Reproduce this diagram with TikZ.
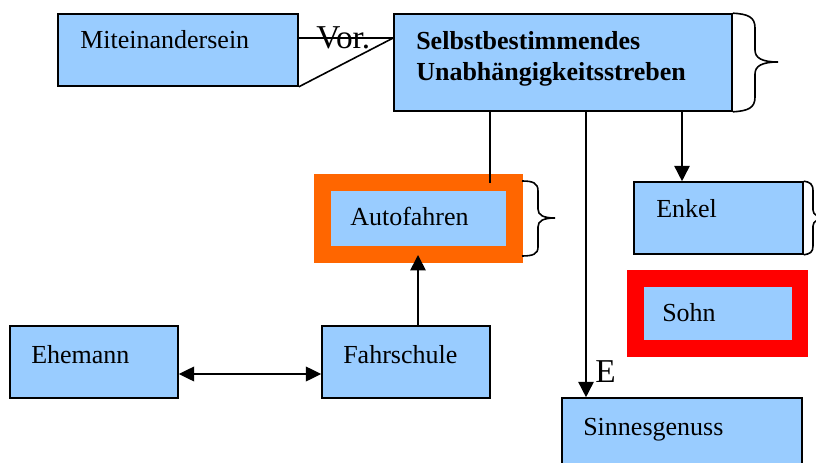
\documentclass[tikz,border=0pt]{standalone}
\usepackage{fontspec}
\setmainfont{Liberation Serif}
\usetikzlibrary{arrows.meta,fit}
\definecolor{boxblue}{HTML}{99CCFF}
\definecolor{frameorange}{HTML}{FF6600}
\definecolor{framered}{HTML}{FF0000}
\begin{document}
\begin{tikzpicture}[x=0.75pt,y=-0.75pt,
  box/.style={draw=black, line width=1.2pt, fill=boxblue, inner sep=0pt},
  orangebox/.style={draw=frameorange, line width=12.75pt, fill=boxblue, inner sep=0pt},
  redbox/.style={draw=framered, line width=12.5pt, fill=boxblue, inner sep=0pt},
  lbl/.style={anchor=base west, inner sep=0pt, font=\fontsize{19.5}{23}\selectfont},
  blbl/.style={lbl, font=\fontsize{19.5}{23}\selectfont\bfseries},
  biglbl/.style={lbl, font=\fontsize{25}{29}\selectfont},
  conn/.style={line width=1.2pt},
  arr/.style={-{Triangle[length=11.5pt,width=11.5pt]}},
  darr/.style={{Triangle[length=11.5pt,width=11pt]}-{Triangle[length=11.5pt,width=11pt]}}]
\useasboundingbox (0,0) rectangle (816,463);
\clip (0,0) rectangle (816,463);

% boxes
\node[box, fit={(58,14)(298,86)}] (mit) {};
\node[lbl] (mitT) at (80,49) {Miteinandersein};
\node[box, fit={(394,14)(732,111)}] (sel) {};
\node[blbl] (selA) at (416,50) {Selbstbestimmendes};
\node[blbl] (selB) at (416,81) {Unabhängigkeitsstreben};
\node[orangebox, fit={(322.5,182.5)(514.5,254.5)}] (auto) {};
\node[lbl] (autoT) at (350,225) {Autofahren};
\node[box, fit={(634,182)(803,254)}] (enk) {};
\node[lbl] (enkT) at (656,218) {Enkel};
\node[redbox, fit={(635.5,278.5)(800,348.5)}] (sohn) {};
\node[lbl] (sohnT) at (662,321) {Sohn};
\node[box, fit={(10,326)(178,398)}] (ehe) {};
\node[lbl] (eheT) at (31,363) {Ehemann};
\node[box, fit={(322,326)(490,398)}] (fahr) {};
\node[lbl] (fahrT) at (343,363) {Fahrschule};
\node[box, fit={(562,398)(802,490)}] (sinn) {};
\node[lbl] (sinnT) at (583,435) {Sinnesgenuss};

% connectors
\coordinate (vy) at (0,38);
\draw[conn] (mit.east |- vy) -- (sel.west |- vy);
\draw[conn] (mit.south east) -- (sel.west |- vy);
\node[biglbl] (vor) at (316,49) {Vor.};

\coordinate (autoIn) at (490,183);
\draw[conn] (sel.south -| autoIn) -- (autoIn);
\coordinate (sx) at (586,0);
\draw[conn,arr] (sel.south -| sx) -- (sinn.north -| sx);
\node[biglbl] (eT) at (595,382) {E};
\coordinate (ex) at (682,0);
\draw[conn,arr] (sel.south -| ex) -- (enk.north -| ex);
\coordinate (autoTip) at (418,255);
\draw[conn,arr] (fahr.north -| autoTip) -- (autoTip);
\coordinate (hy) at (0,374);
\draw[conn,darr] (ehe.east |- hy) -- (fahr.west |- hy);

% braces
\draw[conn] (sel.north east) .. controls (748,14) and (755,17) .. (755,28) -- (755,50)
  .. controls (755,58) and (762,62) .. (778,62)
  .. controls (762,62) and (755,66) .. (755,74) -- (755,97)
  .. controls (755,108) and (748,111) .. (sel.south east);
\draw[conn] (522,181) .. controls (533,181) and (538,183) .. (538,191) -- (538,209)
  .. controls (538,215) and (543,218) .. (555,218)
  .. controls (543,218) and (538,221) .. (538,227) -- (538,247)
  .. controls (538,254) and (533,256) .. (522,256);
\draw[conn] (enk.north east) .. controls (810,182) and (813,184) .. (813,191) -- (813,210)
  .. controls (813,215) and (818,218) .. (830,218)
  .. controls (818,218) and (813,221) .. (813,226) -- (813,246)
  .. controls (813,252) and (810,254) .. (enk.south east);
\end{tikzpicture}
\end{document}
